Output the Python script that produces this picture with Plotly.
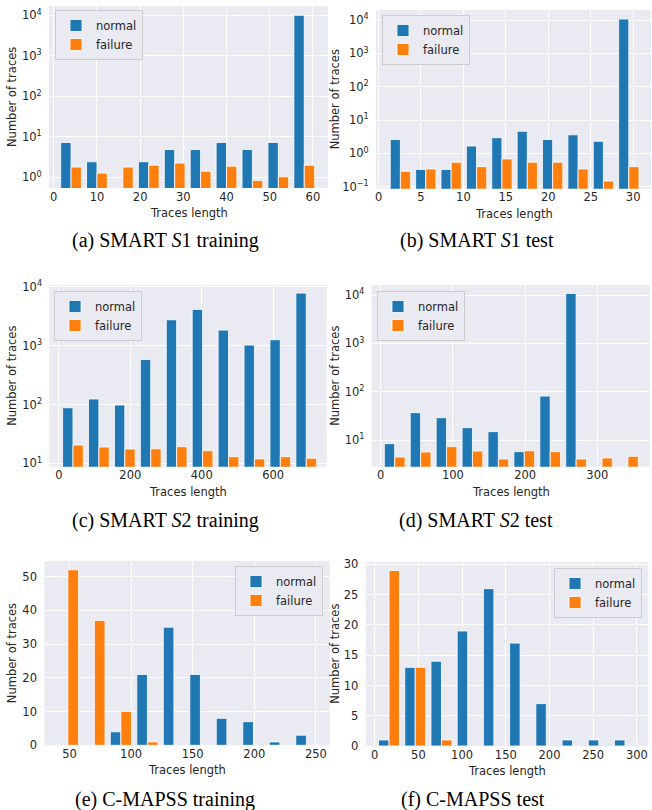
import plotly.graph_objects as go

W, H = 652, 810

# ---------------- data ----------------
series_names = ["normal", "failure"]

# (a) SMART S1 training  (10 bins)
a_bin_start, a_bin_width = 1.0, 6.0
a_normal = [7.3, 2.44, 0, 2.44, 4.9, 4.9, 7.3, 4.9, 7.3, 10000]
a_failure = [1.8, 1.28, 1.8, 2.0, 2.26, 1.43, 1.9, 0.84, 1.04, 2.0]

# (b) SMART S1 test
b_bin_start, b_bin_width = 1.08, 2.99
b_normal = [2.6, 0.33, 0.33, 1.66, 2.95, 4.6, 2.6, 3.6, 2.3, 10700]
b_failure = [0.29, 0.34, 0.54, 0.40, 0.68, 0.54, 0.54, 0.34, 0.148, 0.40]

# (c) SMART S2 training
c_bin_start, c_bin_width = 3.0, 72.6
c_normal = [88, 124, 98, 583, 2750, 4120, 1835, 1020, 1260, 7800]
c_failure = [20.5, 18.9, 17.5, 17.7, 19.2, 16.4, 13.0, 11.9, 13.0, 12.2]

# (d) SMART S2 test
d_bin_start, d_bin_width = 1.4, 35.9
d_normal = [8.4, 36.8, 29, 18, 14.9, 5.74, 81, 10800, 0, 0]
d_failure = [4.45, 5.65, 7.3, 5.9, 4.05, 6.0, 5.75, 4.05, 4.25, 4.6]

# (e) C-MAPSS training
e_bin_start, e_bin_width = 38.0, 21.5
e_normal = [0, 0, 4, 21, 35, 21, 8, 7, 1, 3]
e_failure = [52, 37, 10, 1, 0, 0, 0, 0, 0, 0]

# (f) C-MAPSS test
f_bin_start, f_bin_width = 1.4, 30.0
f_normal = [1, 13, 14, 19, 26, 17, 7, 1, 1, 1]
f_failure = [29, 13, 1, 0, 0, 0, 0, 0, 0, 0]

captions = [
    "(a) SMART <i>S</i>1 training",
    "(b) SMART <i>S</i>1 test",
    "(c) SMART <i>S</i>2 training",
    "(d) SMART <i>S</i>2 test",
    "(e) C-MAPSS training",
    "(f) C-MAPSS test",
]
x_ticks = [
    [0, 10, 20, 30, 40, 50, 60],
    [0, 5, 10, 15, 20, 25, 30],
    [0, 200, 400, 600],
    [0, 100, 200, 300],
    [50, 100, 150, 200, 250],
    [0, 50, 100, 150, 200, 250, 300],
]
log_exponents = [
    [0, 1, 2, 3, 4],
    [-1, 0, 1, 2, 3, 4],
    [1, 2, 3, 4],
    [1, 2, 3, 4],
    None,
    None,
]
lin_y_ticks = [None, None, None, None,
               [0, 10, 20, 30, 40, 50],
               [0, 5, 10, 15, 20, 25, 30]]
x_title = "Traces length"
y_title = "Number of traces"

# ---------------- layout / style ----------------
BLUE = "#1f77b4"
ORANGE = "#ff7f0e"
BG = "#EAEAF2"
TXT = "#262626"
FONT = "DejaVu Sans"

panels = [
    dict(start=a_bin_start, bw=a_bin_width, normal=a_normal, failure=a_failure,
         dom_x=(49, 328), dom_y=(6, 188), xr=(-1.1, 63.5), yr=(-0.26, 4.23), log=True,
         leg=(55, 10, "left"), cap=(166, 240)),
    dict(start=b_bin_start, bw=b_bin_width, normal=b_normal, failure=b_failure,
         dom_x=(376, 651), dom_y=(10, 188.7), xr=(-0.3, 32.1), yr=(-1.06, 4.3), log=True,
         leg=(382, 15, "left"), cap=(477, 240)),
    dict(start=c_bin_start, bw=c_bin_width, normal=c_normal, failure=c_failure,
         dom_x=(49.3, 326.7), dom_y=(285, 466.7), xr=(-27, 750), yr=(0.943, 4.03), log=True,
         leg=(54, 291, "left"), cap=(166, 520)),
    dict(start=d_bin_start, bw=d_bin_width, normal=d_normal, failure=d_failure,
         dom_x=(371.7, 650), dom_y=(285, 466.7), xr=(-12.5, 373), yr=(0.448, 4.207), log=True,
         leg=(377, 291, "left"), cap=(476, 520)),
    dict(start=e_bin_start, bw=e_bin_width, normal=e_normal, failure=e_failure,
         dom_x=(44.3, 330), dom_y=(561, 745.3), xr=(29.6, 261.4), yr=None, log=False,
         leg=(323, 566, "right"), cap=(165, 799)),
    dict(start=f_bin_start, bw=f_bin_width, normal=f_normal, failure=f_failure,
         dom_x=(365.7, 648.3), dom_y=(561.7, 746), xr=(-10.3, 313.1), yr=None, log=False,
         leg=(642, 568, "right"), cap=(473, 799)),
]


def px_x(v):
    return v / W


def px_y(v):
    return 1 - v / H


fig = go.Figure()
layout = dict(
    width=W, height=H,
    margin=dict(l=0, r=0, t=0, b=0, autoexpand=False),
    paper_bgcolor="white",
    plot_bgcolor=BG,
    barmode="overlay",
    font=dict(family=FONT, size=11.5, color=TXT),
    annotations=[],
)

for i, p in enumerate(panels, start=1):
    n = len(p["normal"])
    centers = [p["start"] + (k + 0.5) * p["bw"] for k in range(n)]
    legname = "legend" if i == 1 else f"legend{i}"
    xa = "x" if i == 1 else f"x{i}"
    ya = "y" if i == 1 else f"y{i}"
    for name, vals, col, off in [
        (series_names[0], p["normal"], BLUE, -0.4),
        (series_names[1], p["failure"], ORANGE, 0.0),
    ]:
        fig.add_trace(go.Bar(
            x=centers,
            y=[v if v > 0 else None for v in vals],
            width=0.4 * p["bw"], offset=off * p["bw"],
            marker=dict(color=col, line=dict(color="white", width=0.8)),
            name=name, xaxis=xa, yaxis=ya, legend=legname,
            hoverinfo="skip",
        ))

    xk = "xaxis" if i == 1 else f"xaxis{i}"
    yk = "yaxis" if i == 1 else f"yaxis{i}"
    layout[xk] = dict(
        domain=[px_x(p["dom_x"][0]), px_x(p["dom_x"][1])],
        anchor=ya, range=list(p["xr"]),
        tickvals=x_ticks[i - 1],
        showgrid=True, gridcolor="white", gridwidth=1.2,
        zeroline=False, showline=False,
        ticks="", automargin=False,
        tickfont=dict(family=FONT, size=11.5, color=TXT),
    )
    ydict = dict(
        domain=[px_y(p["dom_y"][1]), px_y(p["dom_y"][0])],
        anchor=xa,
        showgrid=True, gridcolor="white", gridwidth=1.2,
        zeroline=False, showline=False,
        ticks="outside", ticklen=4, tickcolor="rgba(0,0,0,0)",
        automargin=False,
        tickfont=dict(family=FONT, size=11.5, color=TXT),
    )
    if p["log"]:
        exps = log_exponents[i - 1]
        ydict.update(
            type="log", range=list(p["yr"]),
            tickvals=[10.0 ** e for e in exps],
            ticktext=["10<sup>%s</sup>" % (str(e).replace("-", "\u2212")) for e in exps],
        )
    else:
        ymax = max(max(p["normal"]), max(p["failure"])) * 1.05
        ydict.update(type="linear", range=[0, ymax], tickvals=lin_y_ticks[i - 1])
    layout[yk] = ydict

    # legend
    lx, ly, side = p["leg"]
    layout[legname] = dict(
        x=px_x(lx), y=px_y(ly), xref="paper", yref="paper",
        xanchor=side, yanchor="top",
        bgcolor=BG, bordercolor="#CCCCCC", borderwidth=1,
        font=dict(family=FONT, size=11.5, color=TXT),
        itemwidth=30, tracegroupgap=0,
    )

    # axis titles
    cx = (p["dom_x"][0] + p["dom_x"][1]) / 2
    cy = (p["dom_y"][0] + p["dom_y"][1]) / 2
    layout["annotations"].append(dict(
        text=x_title, x=px_x(cx), y=px_y(p["dom_y"][1] + 25),
        xref="paper", yref="paper", xanchor="center", yanchor="middle",
        showarrow=False, font=dict(family=FONT, size=11.5, color=TXT),
    ))
    ytx = 12 if p["dom_x"][0] < 200 else 335
    layout["annotations"].append(dict(
        text=y_title, x=px_x(ytx), y=px_y(cy),
        xref="paper", yref="paper", xanchor="center", yanchor="middle",
        textangle=-90, showarrow=False,
        font=dict(family=FONT, size=11.5, color=TXT),
    ))
    # caption
    capx, capy = p["cap"]
    layout["annotations"].append(dict(
        text=captions[i - 1], x=px_x(capx), y=px_y(capy),
        xref="paper", yref="paper", xanchor="center", yanchor="middle",
        showarrow=False,
        font=dict(family="Liberation Serif", size=20, color="black"),
    ))

fig.update_layout(**layout)
fig.write_html(
    "out.html",
    config={"displayModeBar": False},
    post_script="document.body.style.margin='0px';document.body.style.overflow='hidden';",
)
